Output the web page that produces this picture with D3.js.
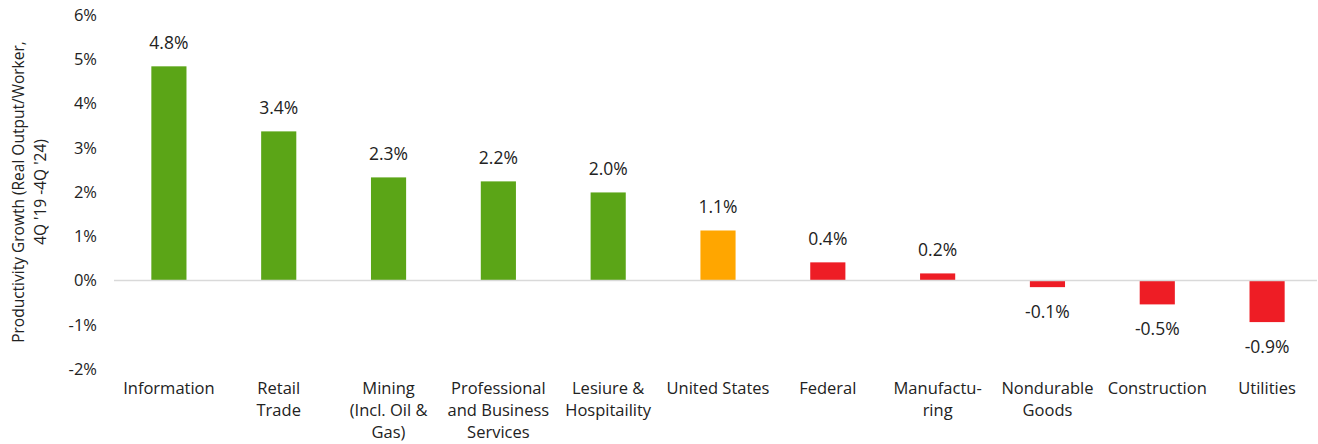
<!DOCTYPE html>
<html>
<head>
<meta charset="utf-8">
<script src="https://cdn.jsdelivr.net/npm/d3@7"></script>
<style>
	body { margin: 0; background: #fff; }
	svg text { font-family: "Open Sans", "Noto Sans", sans-serif; fill: #222; }
</style>
</head>
<body>
<svg class="chart"></svg>
<script>
// chart data
const categories = [
	["Information"],
	["Retail", "Trade"],
	["Mining", "(Incl. Oil &", "Gas)"],
	["Professional", "and Business", "Services"],
	["Lesiure &", "Hospitaility"],
	["United States"],
	["Federal"],
	["Manufactu-", "ring"],
	["Nondurable", "Goods"],
	["Construction"],
	["Utilities"]
];
const values = [4.84, 3.37, 2.33, 2.24, 1.99, 1.13, 0.41, 0.16, -0.15, -0.54, -0.94];
const valueLabels = ["4.8%", "3.4%", "2.3%", "2.2%", "2.0%", "1.1%", "0.4%", "0.2%", "-0.1%", "-0.5%", "-0.9%"];
const barGroups = ["up", "up", "up", "up", "up", "us", "down", "down", "down", "down", "down"];
const yTicks = [-2, -1, 0, 1, 2, 3, 4, 5, 6];
const yTitle = ["Productivity Growth (Real Output/Worker,", "4Q '19 -4Q '24)"];

const W = 1318, H = 444;
const margin = {top: 15, right: 0, bottom: 75, left: 114};

const svg = d3.select(".chart").attr("width", W).attr("height", H);

const x = d3.scaleBand()
	.domain(d3.range(categories.length))
	.range([margin.left, 1322])
	.paddingInner(0.68)
	.paddingOuter(0.34);

const y = d3.scaleLinear()
	.domain([-2, 6])
	.range([369, 15]);

const colour = d3.scaleOrdinal()
	.domain(["up", "us", "down"])
	.range(["#5ba517", "#ffa600", "#ee1d25"]);

// y tick labels (no axis line)
svg.append("g").selectAll("text")
	.data(yTicks)
	.enter().append("text")
	.attr("x", 97)
	.attr("y", d => y(d))
	.attr("dy", "0.35em")
	.attr("text-anchor", "end")
	.style("font-size", "16.5px")
	.text(d => d + "%");

// y title
const title = svg.append("text")
	.attr("transform", "translate(24," + (y(2)) + ") rotate(-90)")
	.attr("text-anchor", "middle")
	.style("font-size", "15.5px");
title.selectAll("tspan")
	.data(yTitle)
	.enter().append("tspan")
	.attr("x", 0)
	.attr("dy", (d, i) => i === 0 ? "0" : "1.4em")
	.text(d => d);

// bars
svg.append("g").selectAll("rect")
	.data(values)
	.enter().append("rect")
	.attr("x", (d, i) => x(i))
	.attr("width", x.bandwidth())
	.attr("y", d => y(Math.max(0, d)))
	.attr("height", d => Math.abs(y(d) - y(0)))
	.attr("fill", (d, i) => colour(barGroups[i]));

// zero line
svg.append("line")
	.attr("x1", margin.left).attr("x2", 1317)
	.attr("y1", y(0)).attr("y2", y(0))
	.attr("stroke", "#d9d9d9")
	.attr("stroke-width", 1.5);

// value labels
svg.append("g").selectAll("text")
	.data(values)
	.enter().append("text")
	.attr("x", (d, i) => x(i) + x.bandwidth() / 2)
	.attr("y", d => d >= 0 ? y(d) - 17 : y(d) + 31)
	.attr("text-anchor", "middle")
	.style("font-size", "17.5px")
	.text((d, i) => valueLabels[i]);

// category labels
const cat = svg.append("g").selectAll("text")
	.data(categories)
	.enter().append("text")
	.attr("x", (d, i) => x(i) + x.bandwidth() / 2)
	.attr("y", 394)
	.attr("text-anchor", "middle")
	.style("font-size", "16.5px");
cat.selectAll("tspan")
	.data(d => d)
	.enter().append("tspan")
	.attr("x", function () { return d3.select(this.parentNode).attr("x"); })
	.attr("dy", (d, i) => i === 0 ? 0 : 22)
	.text(d => d);
</script>
</body>
</html>
